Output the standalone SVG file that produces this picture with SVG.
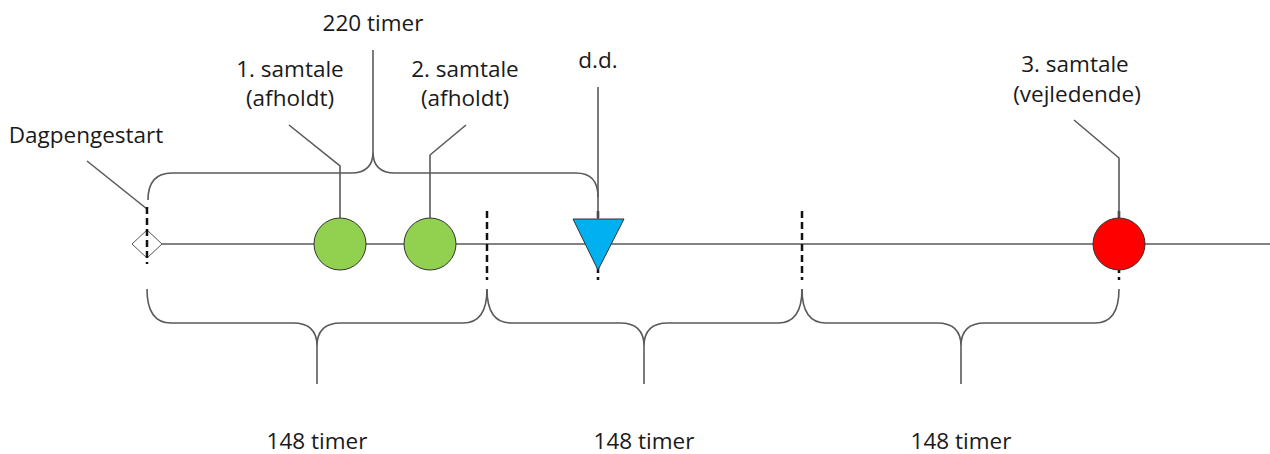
<svg xmlns="http://www.w3.org/2000/svg" width="1270" height="454" viewBox="0 0 1270 454">
<style>
.ln{fill:none;stroke:#5a5a5a;stroke-width:1.6}
.dash{fill:none;stroke:#111;stroke-width:2.5;stroke-dasharray:7 4}
.t{font-family:"Open Sans","DejaVu Sans",sans-serif;font-size:22.5px;fill:#1a1a1a;text-anchor:middle}
.node{stroke:#333;stroke-width:1}
</style>
<rect width="1270" height="454" fill="#fff"/>
<g id="connectors">
<line class="ln" x1="162" y1="244" x2="1270" y2="244"/>
<line class="dash" x1="487" y1="211" x2="487" y2="280"/>
<line class="dash" x1="802" y1="211" x2="802" y2="280"/>
<line class="dash" x1="598" y1="211" x2="598" y2="280"/>
<line class="dash" x1="1119" y1="211" x2="1119" y2="280"/>
<polyline class="ln" points="87,161 147,209"/>
<polyline class="ln" points="289,125 340,166 340,218"/>
<polyline class="ln" points="466,125 430,155 430,218"/>
<polyline class="ln" points="1074,120 1119,158 1119,218"/>
<line class="ln" x1="598" y1="87" x2="598" y2="219"/>
<path class="ln" d="M148,200 Q148,173 172,173 L351,173 Q373,173 373,152 Q373,173 395,173 L576,173 Q598,173 598,197"/>
<line class="ln" x1="373" y1="50" x2="373" y2="152"/>
<path class="ln" d="M147,289 Q147,323 171,323 L293,323 Q317,323 317,346 Q317,323 341,323 L463,323 Q487,323 487,289"/>
<line class="ln" x1="317" y1="346" x2="317" y2="384"/>
<path class="ln" d="M487,289 Q487,323 511,323 L620,323 Q644,323 644,346 Q644,323 668,323 L778,323 Q802,323 802,289"/>
<line class="ln" x1="644" y1="346" x2="644" y2="384"/>
<path class="ln" d="M802,289 Q802,323 826,323 L937,323 Q961,323 961,346 Q961,323 985,323 L1095,323 Q1119,323 1119,289"/>
<line class="ln" x1="961" y1="346" x2="961" y2="384"/>
</g>
<g id="start">
<polygon points="132,244 147,230 162,244 147,258" fill="#fff" stroke="#555" stroke-width="1"/>
<line class="dash" x1="147" y1="207" x2="147" y2="264"/>
<text class="t" x="86" y="143">Dagpengestart</text>
</g>
<g id="samtale1">
<circle class="node" cx="340" cy="244" r="26" fill="#92D050"/>
<text class="t" x="290" y="77">1. samtale</text>
<text class="t" x="290" y="106">(afholdt)</text>
</g>
<g id="samtale2">
<circle class="node" cx="430" cy="244" r="26" fill="#92D050"/>
<text class="t" x="465" y="77">2. samtale</text>
<text class="t" x="465" y="106">(afholdt)</text>
</g>
<g id="dd">
<polygon class="node" points="573,219 624,219 598,270" fill="#00B0F0"/>
<text class="t" x="598" y="68">d.d.</text>
</g>
<g id="samtale3">
<circle class="node" cx="1119" cy="244" r="26" fill="#FF0000"/>
<text class="t" x="1075" y="72">3. samtale</text>
<text class="t" x="1077" y="102">(vejledende)</text>
</g>
<g id="labels">
<text class="t" x="373" y="31">220 timer</text>
<text class="t" x="317" y="449">148 timer</text>
<text class="t" x="644" y="449">148 timer</text>
<text class="t" x="961" y="449">148 timer</text>
</g>
</svg>
